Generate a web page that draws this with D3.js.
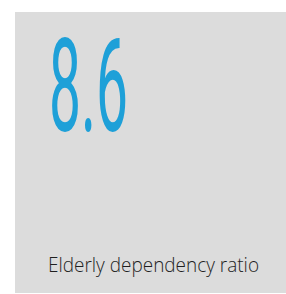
<!DOCTYPE html>
<html><head><meta charset="utf-8">
<script src="https://d3js.org/d3.v7.min.js"></script>
<style>html,body{margin:0;padding:0;background:#fff;}svg{display:block;}</style>
</head><body>
<script>
const values = [8.6];
const labels = ["Elderly dependency ratio"];

const W = 286, H = 294;
const svg = d3.select("body").append("svg").attr("width", W).attr("height", H);

svg.append("rect").attr("x", 15).attr("y", 12).attr("width", 271).attr("height", 281)
  .attr("fill", "#dcdcdc");

const fmt = d3.format(".1f");
const num = svg.append("text")
  .attr("font-family", "Roboto")
  .attr("font-weight", 400)
  .attr("font-size", 130)
  .attr("fill", "#1ea0d8")
  .text(fmt(values[0]));
const bb = num.node().getBBox();
const capH = 130 * 0.711;
const sx = (128 - 49) / bb.width;
const sy = 92 / capH;
num.attr("transform", `translate(49,131) scale(${sx},${sy}) translate(${-bb.x},0)`);

svg.append("text")
  .attr("x", 48).attr("y", 272)
  .attr("font-family", "Open Sans")
  .attr("font-weight", 300)
  .attr("font-size", 20)
  .attr("fill", "#1f1f1f")
  .attr("textLength", 211)
  .attr("lengthAdjust", "spacingAndGlyphs")
  .text(labels[0]);
</script>
</body></html>
